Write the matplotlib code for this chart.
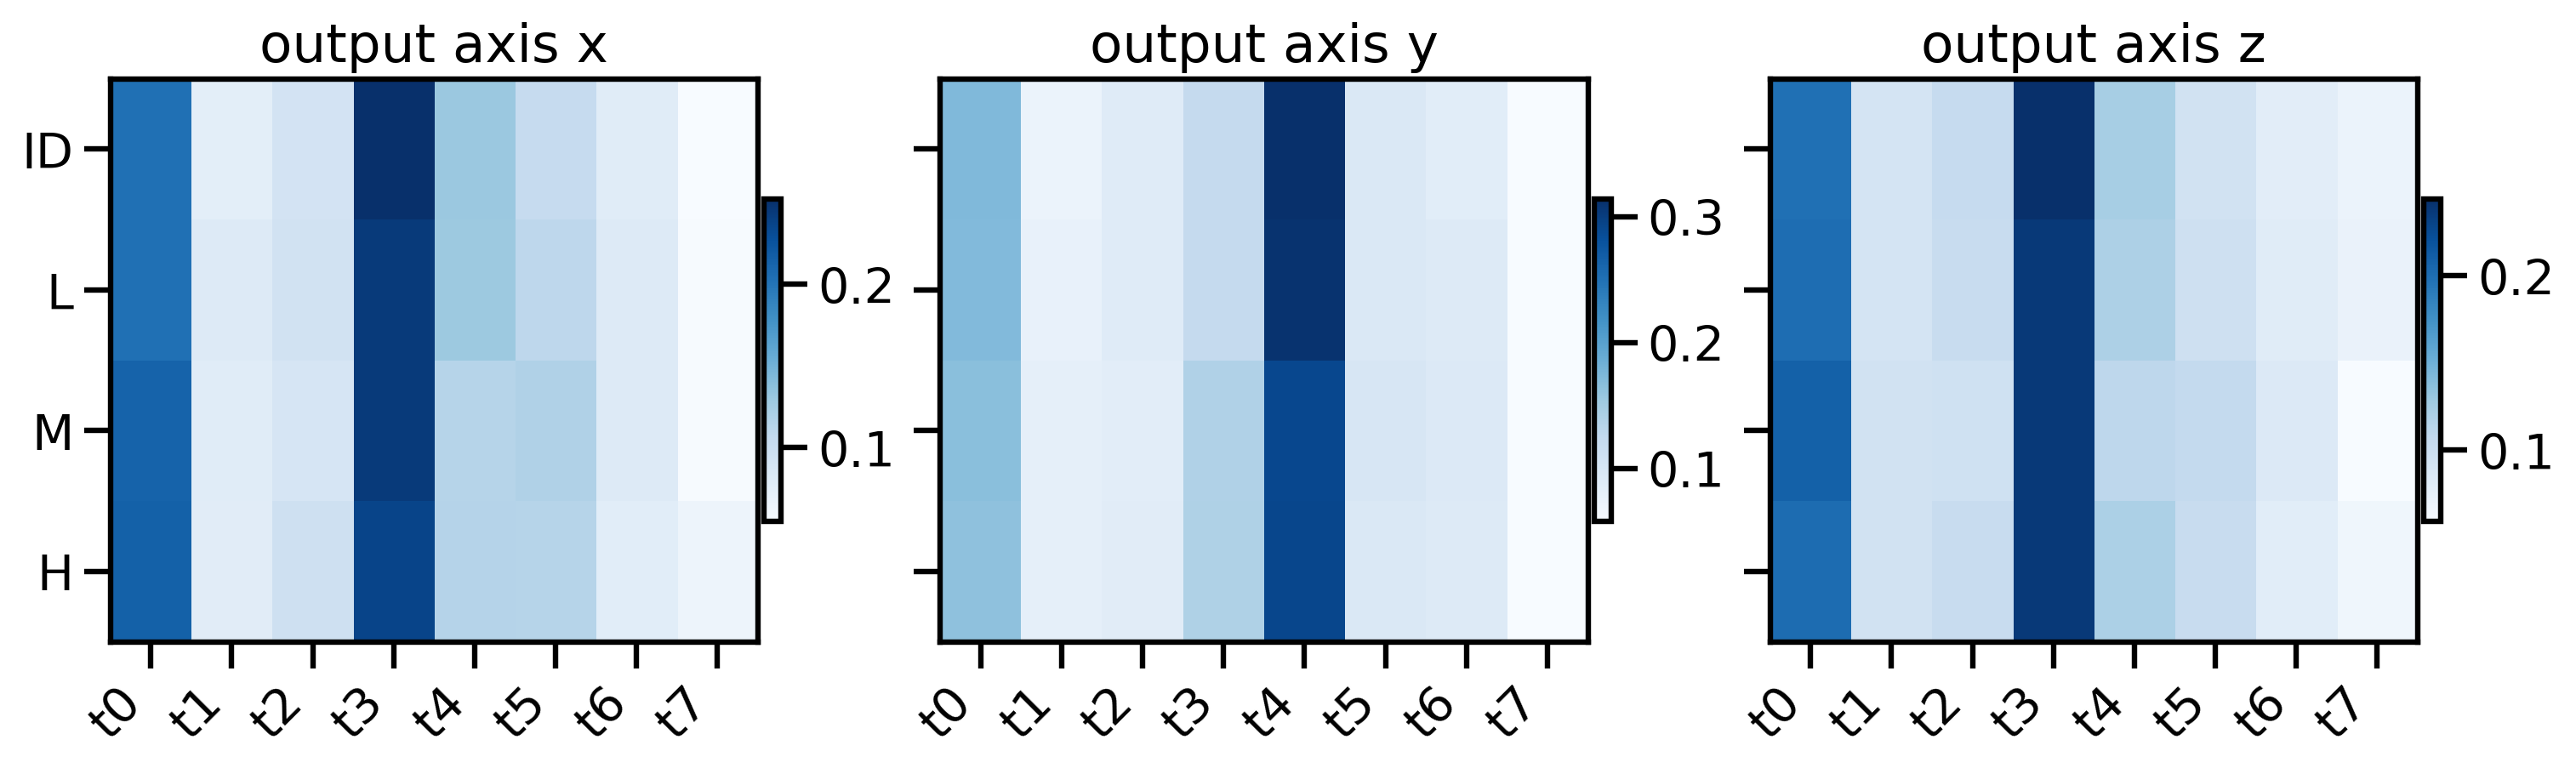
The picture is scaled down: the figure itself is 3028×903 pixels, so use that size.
import numpy as np
import matplotlib
matplotlib.use("Agg")
import matplotlib.pyplot as plt
from matplotlib.ticker import MultipleLocator

rows = ["ID", "L", "M", "H"]
cols = ["t0", "t1", "t2", "t3", "t4", "t5", "t6", "t7"]
titles = ["output axis x", "output axis y", "output axis z"]

# rows: ID, L, M, H ; columns t0..t7
axis_x = [
    [0.203, 0.075, 0.091, 0.252, 0.130, 0.104, 0.078, 0.055],
    [0.203, 0.080, 0.092, 0.244, 0.129, 0.109, 0.081, 0.056],
    [0.213, 0.078, 0.088, 0.244, 0.114, 0.118, 0.080, 0.056],
    [0.215, 0.077, 0.096, 0.236, 0.115, 0.114, 0.076, 0.065],
]
axis_y = [
    [0.173, 0.074, 0.089, 0.122, 0.314, 0.094, 0.085, 0.058],
    [0.171, 0.077, 0.089, 0.122, 0.310, 0.095, 0.091, 0.058],
    [0.166, 0.080, 0.084, 0.139, 0.291, 0.099, 0.093, 0.058],
    [0.163, 0.080, 0.087, 0.140, 0.292, 0.094, 0.091, 0.059],
]
axis_z = [
    [0.198, 0.092, 0.105, 0.244, 0.123, 0.094, 0.078, 0.070],
    [0.200, 0.092, 0.103, 0.237, 0.119, 0.098, 0.080, 0.071],
    [0.209, 0.095, 0.096, 0.237, 0.110, 0.106, 0.084, 0.059],
    [0.201, 0.094, 0.103, 0.237, 0.120, 0.103, 0.079, 0.066],
]

W, H = 3028, 904
fig = plt.figure(figsize=(W / 200, H / 200), dpi=200)

tick_fs = 20.6
lw = 2.3
tick_len = 11
tick_pad = 4.5

# layout in pixels (measured from the top-left corner)
ax_lefts = [129.7, 1105.2, 2080.7]
ax_w, ax_top, ax_bot = 761.3, 93.7, 755.7
cb_gap, cb_w, cb_top, cb_bot = 7.3, 19.7, 235, 614

for k, (data, title) in enumerate(zip([axis_x, axis_y, axis_z], titles)):
    left = ax_lefts[k]
    ax = fig.add_axes([left / W, (H - ax_bot) / H, ax_w / W, (ax_bot - ax_top) / H])
    im = ax.imshow(np.array(data), cmap="Blues", aspect="auto", interpolation="nearest")
    ax.set_title(title, fontsize=22.6, pad=7.5)
    ax.set_xticks(range(len(cols)))
    ax.set_xticklabels(cols, rotation=45, ha="right", fontsize=tick_fs)
    ax.set_yticks(range(len(rows)))
    if k == 0:
        ax.set_yticklabels(rows, fontsize=tick_fs)
    else:
        ax.set_yticklabels([])
    ax.tick_params(length=tick_len, width=lw, pad=tick_pad)
    for s in ax.spines.values():
        s.set_linewidth(lw)

    cax = fig.add_axes([(left + ax_w + cb_gap) / W, (H - cb_bot) / H,
                        cb_w / W, (cb_bot - cb_top) / H])
    cb = fig.colorbar(im, cax=cax)
    cb.locator = MultipleLocator(0.1)
    cb.update_ticks()
    cb.outline.set_linewidth(lw)
    cax.tick_params(length=tick_len, width=lw, labelsize=tick_fs, pad=tick_pad)

fig.savefig("out.png", dpi=200)
